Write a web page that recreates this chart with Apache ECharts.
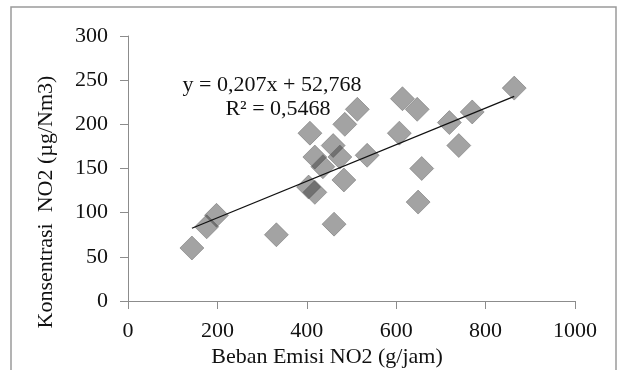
<!DOCTYPE html>
<html>
<head>
<meta charset="utf-8">
<script src="https://cdn.jsdelivr.net/npm/echarts@6/dist/echarts.min.js"></script>
<style>
  html, body { margin: 0; padding: 0; background: #fff; }
  #chart { width: 621px; height: 370px; }
</style>
</head>
<body>
<div id="chart"></div>
<script>
// Emission load (g/jam) against NO2 concentration (µg/Nm3)
const bebanEmisi = [143, 176, 198, 332, 404, 418, 407, 418, 436, 459, 474, 483, 461, 485, 513,
                    535, 607, 614, 647, 657, 649, 719, 740, 770, 864];
const konsentrasi = [60, 84, 97, 75, 129, 123, 190, 163, 152, 176, 163, 137, 87, 200, 217,
                     165, 190, 229, 217, 150, 112, 202, 176, 214, 241];

// Linear trend line as printed on the chart
const slope = 0.207;
const intercept = 52.768;
const rSquared = 0.5468;

const xTicks = [0, 200, 400, 600, 800, 1000];
const yTicks = [0, 50, 100, 150, 200, 250, 300];

const fmt = (v, d) => v.toFixed(d).replace('.', ',');
const points = bebanEmisi.map((x, i) => [x, konsentrasi[i]]);
const xMin = Math.min(...bebanEmisi);
const xMax = Math.max(...bebanEmisi);
const trend = [[xMin, slope * xMin + intercept], [xMax, slope * xMax + intercept]];

const serif = '"Liberation Serif", "Times New Roman", serif';
const axisGray = '#8c8c8c';
const fontPx = 22;

const chart = echarts.init(document.getElementById('chart'), null, { renderer: 'canvas' });
chart.setOption({
  animation: false,
  backgroundColor: '#ffffff',
  grid: { left: 128, right: 46, top: 36, bottom: 69, containLabel: false },
  xAxis: {
    type: 'value',
    min: xTicks[0],
    max: xTicks[xTicks.length - 1],
    interval: xTicks[1] - xTicks[0],
    splitLine: { show: false },
    axisLine: { show: true, onZero: false, lineStyle: { color: axisGray, width: 1 } },
    axisTick: { show: true, inside: false, length: 8, lineStyle: { color: axisGray } },
    axisLabel: { color: '#111', fontFamily: serif, fontSize: fontPx, margin: 19, formatter: v => String(v) }
  },
  yAxis: {
    type: 'value',
    min: yTicks[0],
    max: yTicks[yTicks.length - 1],
    interval: yTicks[1] - yTicks[0],
    splitLine: { show: false },
    axisLine: { show: true, onZero: false, lineStyle: { color: axisGray, width: 1 } },
    axisTick: { show: true, inside: false, length: 8, lineStyle: { color: axisGray } },
    axisLabel: { color: '#111', fontFamily: serif, fontSize: fontPx, margin: 20, formatter: v => String(v) }
  },
  series: [
    {
      type: 'scatter',
      data: points,
      symbol: 'diamond',
      symbolSize: 24,
      itemStyle: {
        color: 'rgba(52,52,52,0.57)',
        borderColor: 'rgba(90,90,90,0.55)',
        borderWidth: 1
      },
      z: 2
    },
    {
      type: 'line',
      data: trend,
      symbol: 'none',
      lineStyle: { color: '#111', width: 1.3 },
      z: 3
    }
  ],
  graphic: [
    {
      type: 'rect',
      shape: { x: 11, y: 7, width: 605, height: 420 },
      style: { fill: 'none', stroke: '#9a9a9a', lineWidth: 1.5 },
      z: -1
    },
    {
      type: 'text',
      x: 46, y: 202,
      rotation: Math.PI / 2,
      style: {
        text: 'Konsentrasi  NO2 (µg/Nm3)',
        font: fontPx + 'px ' + serif,
        fill: '#111',
        align: 'center',
        verticalAlign: 'middle'
      }
    },
    {
      type: 'text',
      x: 327, y: 357,
      style: {
        text: 'Beban Emisi NO2 (g/jam)',
        font: fontPx + 'px ' + serif,
        fill: '#111',
        align: 'center',
        verticalAlign: 'middle'
      }
    },
    {
      type: 'text',
      x: 272, y: 85,
      style: {
        text: 'y = ' + fmt(slope, 3) + 'x + ' + fmt(intercept, 3),
        font: fontPx + 'px ' + serif,
        fill: '#111',
        align: 'center',
        verticalAlign: 'middle'
      },
      z: 10
    },
    {
      type: 'text',
      x: 278, y: 109,
      style: {
        text: 'R² = ' + fmt(rSquared, 4),
        font: fontPx + 'px ' + serif,
        fill: '#111',
        align: 'center',
        verticalAlign: 'middle'
      },
      z: 10
    }
  ]
});
</script>
</body>
</html>
